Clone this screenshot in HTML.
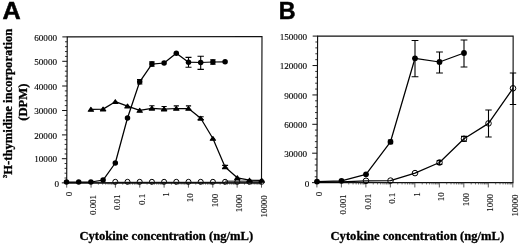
<!DOCTYPE html>
<html lang="en"><head><meta charset="utf-8"><title>Figure</title>
<style>html,body{margin:0;padding:0;background:#fff;}svg{display:block;filter:grayscale(1) blur(0.3px)}.t{font-family:"Liberation Serif","Times New Roman",serif;font-size:9.15px;fill:#000;stroke:#000;stroke-width:0.12px}.b{font-family:"Liberation Serif","Times New Roman",serif;font-weight:bold;font-size:12.62px;fill:#000;stroke:#000;stroke-width:0.3px}.L{font-family:"Liberation Sans",Arial,sans-serif;font-weight:bold;font-size:24px;fill:#000;stroke:#000;stroke-width:0.5px;paint-order:stroke}.ax{stroke:#111;stroke-width:1.15;fill:none}.tk{stroke:#111;stroke-width:1;fill:none}.xt{stroke:#333;stroke-width:0.8;fill:none}.mt{stroke:#111;stroke-width:0.85;fill:none}.xm{stroke:#333;stroke-width:0.7;fill:none}.ln{stroke:#000;stroke-width:1.25;fill:none;stroke-linejoin:round}.eb{stroke:#000;stroke-width:1.1;fill:none}.oc{stroke:#000;stroke-width:1;fill:none}.fc{fill:#000;stroke:none}</style></head><body>
<svg width="520" height="244" viewBox="0 0 520 244">
<rect width="520" height="244" fill="#fff"/>
<text class="L" transform="translate(2.55 18.95) scale(1.05 1)">A</text>
<text class="L" transform="translate(278.85 19.15) scale(0.97 1)">B</text>
<polygon class="ax" points="67.25,36.9 262,36.5 261.5,182.85 66.7,182.85"/>
<line class="tk" x1="62.35" y1="36.9" x2="67.25" y2="36.9"/>
<text class="t" x="57" y="40.65" text-anchor="end">60000</text>
<line class="mt" x1="65.03" y1="41.78" x2="67.23" y2="41.78"/>
<line class="mt" x1="65.01" y1="46.66" x2="67.21" y2="46.66"/>
<line class="mt" x1="64.99" y1="51.54" x2="67.19" y2="51.54"/>
<line class="mt" x1="64.98" y1="56.42" x2="67.18" y2="56.42"/>
<line class="tk" x1="62.26" y1="61.3" x2="67.16" y2="61.3"/>
<text class="t" x="57" y="65.05" text-anchor="end">50000</text>
<line class="mt" x1="64.94" y1="66.24" x2="67.14" y2="66.24"/>
<line class="mt" x1="64.92" y1="71.18" x2="67.12" y2="71.18"/>
<line class="mt" x1="64.9" y1="76.12" x2="67.1" y2="76.12"/>
<line class="mt" x1="64.88" y1="81.06" x2="67.08" y2="81.06"/>
<line class="tk" x1="62.16" y1="86" x2="67.06" y2="86"/>
<text class="t" x="57" y="89.75" text-anchor="end">40000</text>
<line class="mt" x1="64.85" y1="90.9" x2="67.05" y2="90.9"/>
<line class="mt" x1="64.83" y1="95.8" x2="67.03" y2="95.8"/>
<line class="mt" x1="64.81" y1="100.7" x2="67.01" y2="100.7"/>
<line class="mt" x1="64.79" y1="105.6" x2="66.99" y2="105.6"/>
<line class="tk" x1="62.07" y1="110.5" x2="66.97" y2="110.5"/>
<text class="t" x="57" y="114.25" text-anchor="end">30000</text>
<line class="mt" x1="64.75" y1="115.38" x2="66.95" y2="115.38"/>
<line class="mt" x1="64.74" y1="120.26" x2="66.94" y2="120.26"/>
<line class="mt" x1="64.72" y1="125.14" x2="66.92" y2="125.14"/>
<line class="mt" x1="64.7" y1="130.02" x2="66.9" y2="130.02"/>
<line class="tk" x1="61.98" y1="134.9" x2="66.88" y2="134.9"/>
<text class="t" x="57" y="138.65" text-anchor="end">20000</text>
<line class="mt" x1="64.66" y1="139.66" x2="66.86" y2="139.66"/>
<line class="mt" x1="64.64" y1="144.42" x2="66.84" y2="144.42"/>
<line class="mt" x1="64.63" y1="149.18" x2="66.83" y2="149.18"/>
<line class="mt" x1="64.61" y1="153.94" x2="66.81" y2="153.94"/>
<line class="tk" x1="61.89" y1="158.7" x2="66.79" y2="158.7"/>
<text class="t" x="57" y="162.45" text-anchor="end">10000</text>
<line class="mt" x1="64.57" y1="163.53" x2="66.77" y2="163.53"/>
<line class="mt" x1="64.55" y1="168.36" x2="66.75" y2="168.36"/>
<line class="mt" x1="64.54" y1="173.19" x2="66.74" y2="173.19"/>
<line class="mt" x1="64.52" y1="178.02" x2="66.72" y2="178.02"/>
<line class="tk" x1="61.8" y1="182.85" x2="66.7" y2="182.85"/>
<text class="t" x="59.1" y="186.85" text-anchor="end">0</text>
<line class="xt" x1="66.7" y1="182.85" x2="66.7" y2="187.65"/>
<text class="t" style="font-size:8.85px" transform="translate(71.7 191.9) rotate(-90)" text-anchor="end">0</text>
<line class="xt" x1="91.05" y1="182.85" x2="91.05" y2="187.65"/>
<text class="t" style="font-size:8.85px" transform="translate(96.05 195.1) rotate(-90)" text-anchor="end">0.001</text>
<line class="xt" x1="115.4" y1="182.85" x2="115.4" y2="187.65"/>
<line class="xm" x1="98.38" y1="182.85" x2="98.38" y2="184.65"/>
<line class="xm" x1="102.67" y1="182.85" x2="102.67" y2="184.65"/>
<line class="xm" x1="105.71" y1="182.85" x2="105.71" y2="184.65"/>
<line class="xm" x1="108.07" y1="182.85" x2="108.07" y2="184.65"/>
<line class="xm" x1="110" y1="182.85" x2="110" y2="184.65"/>
<line class="xm" x1="111.63" y1="182.85" x2="111.63" y2="184.65"/>
<line class="xm" x1="113.04" y1="182.85" x2="113.04" y2="184.65"/>
<line class="xm" x1="114.29" y1="182.85" x2="114.29" y2="184.65"/>
<text class="t" style="font-size:8.85px" transform="translate(120.4 194.6) rotate(-90)" text-anchor="end">0.01</text>
<line class="xt" x1="139.75" y1="182.85" x2="139.75" y2="187.65"/>
<line class="xm" x1="122.73" y1="182.85" x2="122.73" y2="184.65"/>
<line class="xm" x1="127.02" y1="182.85" x2="127.02" y2="184.65"/>
<line class="xm" x1="130.06" y1="182.85" x2="130.06" y2="184.65"/>
<line class="xm" x1="132.42" y1="182.85" x2="132.42" y2="184.65"/>
<line class="xm" x1="134.35" y1="182.85" x2="134.35" y2="184.65"/>
<line class="xm" x1="135.98" y1="182.85" x2="135.98" y2="184.65"/>
<line class="xm" x1="137.39" y1="182.85" x2="137.39" y2="184.65"/>
<line class="xm" x1="138.64" y1="182.85" x2="138.64" y2="184.65"/>
<text class="t" style="font-size:8.85px" transform="translate(144.75 193.9) rotate(-90)" text-anchor="end">0.1</text>
<line class="xt" x1="164.1" y1="182.85" x2="164.1" y2="187.65"/>
<line class="xm" x1="147.08" y1="182.85" x2="147.08" y2="184.65"/>
<line class="xm" x1="151.37" y1="182.85" x2="151.37" y2="184.65"/>
<line class="xm" x1="154.41" y1="182.85" x2="154.41" y2="184.65"/>
<line class="xm" x1="156.77" y1="182.85" x2="156.77" y2="184.65"/>
<line class="xm" x1="158.7" y1="182.85" x2="158.7" y2="184.65"/>
<line class="xm" x1="160.33" y1="182.85" x2="160.33" y2="184.65"/>
<line class="xm" x1="161.74" y1="182.85" x2="161.74" y2="184.65"/>
<line class="xm" x1="162.99" y1="182.85" x2="162.99" y2="184.65"/>
<text class="t" style="font-size:8.85px" transform="translate(169.1 192.4) rotate(-90)" text-anchor="end">1</text>
<line class="xt" x1="188.45" y1="182.85" x2="188.45" y2="187.65"/>
<line class="xm" x1="171.43" y1="182.85" x2="171.43" y2="184.65"/>
<line class="xm" x1="175.72" y1="182.85" x2="175.72" y2="184.65"/>
<line class="xm" x1="178.76" y1="182.85" x2="178.76" y2="184.65"/>
<line class="xm" x1="181.12" y1="182.85" x2="181.12" y2="184.65"/>
<line class="xm" x1="183.05" y1="182.85" x2="183.05" y2="184.65"/>
<line class="xm" x1="184.68" y1="182.85" x2="184.68" y2="184.65"/>
<line class="xm" x1="186.09" y1="182.85" x2="186.09" y2="184.65"/>
<line class="xm" x1="187.34" y1="182.85" x2="187.34" y2="184.65"/>
<text class="t" style="font-size:8.85px" transform="translate(193.45 193.3) rotate(-90)" text-anchor="end">10</text>
<line class="xt" x1="212.8" y1="182.85" x2="212.8" y2="187.65"/>
<line class="xm" x1="195.78" y1="182.85" x2="195.78" y2="184.65"/>
<line class="xm" x1="200.07" y1="182.85" x2="200.07" y2="184.65"/>
<line class="xm" x1="203.11" y1="182.85" x2="203.11" y2="184.65"/>
<line class="xm" x1="205.47" y1="182.85" x2="205.47" y2="184.65"/>
<line class="xm" x1="207.4" y1="182.85" x2="207.4" y2="184.65"/>
<line class="xm" x1="209.03" y1="182.85" x2="209.03" y2="184.65"/>
<line class="xm" x1="210.44" y1="182.85" x2="210.44" y2="184.65"/>
<line class="xm" x1="211.69" y1="182.85" x2="211.69" y2="184.65"/>
<text class="t" style="font-size:8.85px" transform="translate(217.8 193.9) rotate(-90)" text-anchor="end">100</text>
<line class="xt" x1="237.15" y1="182.85" x2="237.15" y2="187.65"/>
<line class="xm" x1="220.13" y1="182.85" x2="220.13" y2="184.65"/>
<line class="xm" x1="224.42" y1="182.85" x2="224.42" y2="184.65"/>
<line class="xm" x1="227.46" y1="182.85" x2="227.46" y2="184.65"/>
<line class="xm" x1="229.82" y1="182.85" x2="229.82" y2="184.65"/>
<line class="xm" x1="231.75" y1="182.85" x2="231.75" y2="184.65"/>
<line class="xm" x1="233.38" y1="182.85" x2="233.38" y2="184.65"/>
<line class="xm" x1="234.79" y1="182.85" x2="234.79" y2="184.65"/>
<line class="xm" x1="236.04" y1="182.85" x2="236.04" y2="184.65"/>
<text class="t" style="font-size:8.85px" transform="translate(242.15 194.5) rotate(-90)" text-anchor="end">1000</text>
<line class="xt" x1="261.5" y1="182.85" x2="261.5" y2="187.65"/>
<line class="xm" x1="244.48" y1="182.85" x2="244.48" y2="184.65"/>
<line class="xm" x1="248.77" y1="182.85" x2="248.77" y2="184.65"/>
<line class="xm" x1="251.81" y1="182.85" x2="251.81" y2="184.65"/>
<line class="xm" x1="254.17" y1="182.85" x2="254.17" y2="184.65"/>
<line class="xm" x1="256.1" y1="182.85" x2="256.1" y2="184.65"/>
<line class="xm" x1="257.73" y1="182.85" x2="257.73" y2="184.65"/>
<line class="xm" x1="259.14" y1="182.85" x2="259.14" y2="184.65"/>
<line class="xm" x1="260.39" y1="182.85" x2="260.39" y2="184.65"/>
<text class="t" style="font-size:8.85px" transform="translate(266.5 195.3) rotate(-90)" text-anchor="end">10000</text>
<line x1="115.3" y1="182.3" x2="225.1" y2="182.3" stroke="#000" stroke-width="1"/>
<line x1="225.1" y1="181.6" x2="261.7" y2="181.6" stroke="#555" stroke-width="2.2"/>
<circle class="oc" cx="115.3" cy="181.8" r="2.5"/>
<circle class="oc" cx="127.5" cy="181.8" r="2.5"/>
<circle class="oc" cx="139.7" cy="181.8" r="2.5"/>
<circle class="oc" cx="151.9" cy="181.8" r="2.5"/>
<circle class="oc" cx="164.1" cy="181.8" r="2.5"/>
<circle class="oc" cx="176.3" cy="181.8" r="2.5"/>
<circle class="oc" cx="188.5" cy="181.8" r="2.5"/>
<circle class="oc" cx="200.7" cy="181.8" r="2.5"/>
<circle class="oc" cx="212.9" cy="181.8" r="2.5"/>
<circle class="oc" cx="225.1" cy="181.8" r="2.5"/>
<circle class="oc" cx="237.3" cy="181.8" r="2.5"/>
<circle class="oc" cx="249.5" cy="181.8" r="2.5"/>
<circle class="oc" cx="261.7" cy="181.8" r="2.5"/>
<line class="ax" x1="67" y1="182.85" x2="261.7" y2="182.85"/>
<polyline class="ln" points="90.9,109.4 103.1,109.1 115.3,101.7 127.5,106.1 139.7,110.4 151.9,108.3 164.1,109.1 176.3,108.5 188.5,108.5 200.7,118.3 212.9,138.5 225.1,167 237.3,177.8 249.5,180.2 261.7,180.4"/>
<path class="eb" d="M151.9 105.7V109.3M149.3 105.7H154.5M149.3 109.3H154.5"/>
<path class="eb" d="M164.1 106.5V110.1M161.5 106.5H166.7M161.5 110.1H166.7"/>
<path class="eb" d="M176.3 105.9V109.5M173.7 105.9H178.9M173.7 109.5H178.9"/>
<path class="eb" d="M188.5 105.9V109.5M185.9 105.9H191.1M185.9 109.5H191.1"/>
<path class="eb" d="M200.7 116.7V119.5M197.7 116.7H203.7M197.7 119.5H203.7"/>
<path class="eb" d="M225.1 165.4V168.2M222.1 165.4H228.1M222.1 168.2H228.1"/>
<path class="fc" style="stroke:#000;stroke-width:1.1;stroke-linejoin:round" d="M90.9 107.4L93.55 111.2L88.25 111.2Z"/>
<path class="fc" style="stroke:#000;stroke-width:1.1;stroke-linejoin:round" d="M103.1 107.1L105.75 110.9L100.45 110.9Z"/>
<path class="fc" style="stroke:#000;stroke-width:1.1;stroke-linejoin:round" d="M115.3 99.7L117.95 103.5L112.65 103.5Z"/>
<path class="fc" style="stroke:#000;stroke-width:1.1;stroke-linejoin:round" d="M127.5 104.1L130.15 107.9L124.85 107.9Z"/>
<path class="fc" style="stroke:#000;stroke-width:1.1;stroke-linejoin:round" d="M139.7 108.4L142.35 112.2L137.05 112.2Z"/>
<path class="fc" style="stroke:#000;stroke-width:1.1;stroke-linejoin:round" d="M151.9 106.3L154.55 110.1L149.25 110.1Z"/>
<path class="fc" style="stroke:#000;stroke-width:1.1;stroke-linejoin:round" d="M164.1 107.1L166.75 110.9L161.45 110.9Z"/>
<path class="fc" style="stroke:#000;stroke-width:1.1;stroke-linejoin:round" d="M176.3 106.5L178.95 110.3L173.65 110.3Z"/>
<path class="fc" style="stroke:#000;stroke-width:1.1;stroke-linejoin:round" d="M188.5 106.5L191.15 110.3L185.85 110.3Z"/>
<path class="fc" style="stroke:#000;stroke-width:1.1;stroke-linejoin:round" d="M200.7 116.3L203.35 120.1L198.05 120.1Z"/>
<path class="fc" style="stroke:#000;stroke-width:1.1;stroke-linejoin:round" d="M212.9 136.5L215.55 140.3L210.25 140.3Z"/>
<path class="fc" style="stroke:#000;stroke-width:1.1;stroke-linejoin:round" d="M225.1 165L227.75 168.8L222.45 168.8Z"/>
<path class="fc" style="stroke:#000;stroke-width:1.1;stroke-linejoin:round" d="M237.3 175.8L239.95 179.6L234.65 179.6Z"/>
<path class="fc" style="stroke:#000;stroke-width:1.1;stroke-linejoin:round" d="M249.5 178.2L252.15 182L246.85 182Z"/>
<path class="fc" style="stroke:#000;stroke-width:1.1;stroke-linejoin:round" d="M261.7 178.4L264.35 182.2L259.05 182.2Z"/>
<polyline class="ln" points="66.5,182.1 78.7,182 90.9,182 103.1,180.1 115.3,163 127.5,118 139.7,81.8 151.9,64.1 164.1,63 176.3,53.2 188.5,62.2 200.7,62.5 212.9,62 225.1,61.8"/>
<path class="eb" d="M188.5 57.4V67.2M185.5 57.4H191.5M185.5 67.2H191.5"/>
<path class="eb" d="M200.7 56.2V69.4M197.5 56.2H203.9M197.5 69.4H203.9"/>
<path class="eb" d="M212.9 59.8V64.2M210.2 59.8H215.6M210.2 64.2H215.6"/>
<path class="eb" d="M139.7 79.6V84M137 79.6H142.4M137 84H142.4"/>
<path class="eb" d="M151.9 61.9V66.3M149.2 61.9H154.6M149.2 66.3H154.6"/>
<circle class="fc" cx="66.5" cy="182.1" r="2.75"/>
<circle class="fc" cx="78.7" cy="182" r="2.75"/>
<circle class="fc" cx="90.9" cy="182" r="2.75"/>
<circle class="fc" cx="103.1" cy="180.1" r="2.75"/>
<circle class="fc" cx="115.3" cy="163" r="2.75"/>
<circle class="fc" cx="127.5" cy="118" r="2.75"/>
<circle class="fc" cx="139.7" cy="81.8" r="2.75"/>
<circle class="fc" cx="151.9" cy="64.1" r="2.75"/>
<circle class="fc" cx="164.1" cy="63" r="2.75"/>
<circle class="fc" cx="176.3" cy="53.2" r="2.75"/>
<circle class="fc" cx="188.5" cy="62.2" r="2.75"/>
<circle class="fc" cx="200.7" cy="62.5" r="2.75"/>
<circle class="fc" cx="212.9" cy="62" r="2.75"/>
<circle class="fc" cx="225.1" cy="61.8" r="2.75"/>
<text class="b" transform="translate(11.9 177.9) rotate(-90)"><tspan font-size="6.3" dy="-4.6">3</tspan><tspan dy="4.6">H-thymidine incorporation</tspan></text>
<text class="b" transform="translate(27 102.2) rotate(-90)" text-anchor="middle">(DPM)</text>
<text class="b" x="79.4" y="240.0">Cytokine concentration (ng/mL)</text>
<polygon class="ax" points="317.6,36.1 513.15,36.1 513,182.65 316.9,182.65"/>
<line class="tk" x1="312.7" y1="36.1" x2="317.6" y2="36.1"/>
<text class="t" x="307" y="39.85" text-anchor="end">150000</text>
<line class="mt" x1="315.37" y1="41.99" x2="317.57" y2="41.99"/>
<line class="mt" x1="315.34" y1="47.88" x2="317.54" y2="47.88"/>
<line class="mt" x1="315.32" y1="53.77" x2="317.52" y2="53.77"/>
<line class="mt" x1="315.29" y1="59.66" x2="317.49" y2="59.66"/>
<line class="tk" x1="312.56" y1="65.55" x2="317.46" y2="65.55"/>
<text class="t" x="307" y="69.3" text-anchor="end">120000</text>
<line class="mt" x1="315.23" y1="71.43" x2="317.43" y2="71.43"/>
<line class="mt" x1="315.2" y1="77.31" x2="317.4" y2="77.31"/>
<line class="mt" x1="315.18" y1="83.19" x2="317.38" y2="83.19"/>
<line class="mt" x1="315.15" y1="89.07" x2="317.35" y2="89.07"/>
<line class="tk" x1="312.42" y1="94.95" x2="317.32" y2="94.95"/>
<text class="t" x="307" y="98.7" text-anchor="end">90000</text>
<line class="mt" x1="315.09" y1="100.82" x2="317.29" y2="100.82"/>
<line class="mt" x1="315.06" y1="106.69" x2="317.26" y2="106.69"/>
<line class="mt" x1="315.03" y1="112.56" x2="317.23" y2="112.56"/>
<line class="mt" x1="315.01" y1="118.43" x2="317.21" y2="118.43"/>
<line class="tk" x1="312.28" y1="124.3" x2="317.18" y2="124.3"/>
<text class="t" x="307" y="128.05" text-anchor="end">60000</text>
<line class="mt" x1="314.95" y1="130.08" x2="317.15" y2="130.08"/>
<line class="mt" x1="314.92" y1="135.86" x2="317.12" y2="135.86"/>
<line class="mt" x1="314.9" y1="141.64" x2="317.1" y2="141.64"/>
<line class="mt" x1="314.87" y1="147.42" x2="317.07" y2="147.42"/>
<line class="tk" x1="312.14" y1="153.2" x2="317.04" y2="153.2"/>
<text class="t" x="307" y="156.95" text-anchor="end">30000</text>
<line class="mt" x1="314.81" y1="159.09" x2="317.01" y2="159.09"/>
<line class="mt" x1="314.78" y1="164.98" x2="316.98" y2="164.98"/>
<line class="mt" x1="314.76" y1="170.87" x2="316.96" y2="170.87"/>
<line class="mt" x1="314.73" y1="176.76" x2="316.93" y2="176.76"/>
<line class="tk" x1="312" y1="182.65" x2="316.9" y2="182.65"/>
<text class="t" x="309.4" y="186.65" text-anchor="end">0</text>
<line class="xt" x1="316.9" y1="182.65" x2="316.9" y2="187.45"/>
<text class="t" style="font-size:8.85px" transform="translate(321.7 191.9) rotate(-90)" text-anchor="end">0</text>
<line class="xt" x1="341.39" y1="182.65" x2="341.39" y2="187.45"/>
<text class="t" style="font-size:8.85px" transform="translate(346.19 194.5) rotate(-90)" text-anchor="end">0.001</text>
<line class="xt" x1="365.88" y1="182.65" x2="365.88" y2="187.45"/>
<line class="xm" x1="348.76" y1="182.65" x2="348.76" y2="184.45"/>
<line class="xm" x1="353.07" y1="182.65" x2="353.07" y2="184.45"/>
<line class="xm" x1="356.13" y1="182.65" x2="356.13" y2="184.45"/>
<line class="xm" x1="358.5" y1="182.65" x2="358.5" y2="184.45"/>
<line class="xm" x1="360.44" y1="182.65" x2="360.44" y2="184.45"/>
<line class="xm" x1="362.08" y1="182.65" x2="362.08" y2="184.45"/>
<line class="xm" x1="363.5" y1="182.65" x2="363.5" y2="184.45"/>
<line class="xm" x1="364.75" y1="182.65" x2="364.75" y2="184.45"/>
<text class="t" style="font-size:8.85px" transform="translate(370.67 193.9) rotate(-90)" text-anchor="end">0.01</text>
<line class="xt" x1="390.36" y1="182.65" x2="390.36" y2="187.45"/>
<line class="xm" x1="373.25" y1="182.65" x2="373.25" y2="184.45"/>
<line class="xm" x1="377.56" y1="182.65" x2="377.56" y2="184.45"/>
<line class="xm" x1="380.62" y1="182.65" x2="380.62" y2="184.45"/>
<line class="xm" x1="382.99" y1="182.65" x2="382.99" y2="184.45"/>
<line class="xm" x1="384.93" y1="182.65" x2="384.93" y2="184.45"/>
<line class="xm" x1="386.57" y1="182.65" x2="386.57" y2="184.45"/>
<line class="xm" x1="387.99" y1="182.65" x2="387.99" y2="184.45"/>
<line class="xm" x1="389.24" y1="182.65" x2="389.24" y2="184.45"/>
<text class="t" style="font-size:8.85px" transform="translate(395.16 192.8) rotate(-90)" text-anchor="end">0.1</text>
<line class="xt" x1="414.85" y1="182.65" x2="414.85" y2="187.45"/>
<line class="xm" x1="397.73" y1="182.65" x2="397.73" y2="184.45"/>
<line class="xm" x1="402.05" y1="182.65" x2="402.05" y2="184.45"/>
<line class="xm" x1="405.11" y1="182.65" x2="405.11" y2="184.45"/>
<line class="xm" x1="407.48" y1="182.65" x2="407.48" y2="184.45"/>
<line class="xm" x1="409.42" y1="182.65" x2="409.42" y2="184.45"/>
<line class="xm" x1="411.06" y1="182.65" x2="411.06" y2="184.45"/>
<line class="xm" x1="412.48" y1="182.65" x2="412.48" y2="184.45"/>
<line class="xm" x1="413.73" y1="182.65" x2="413.73" y2="184.45"/>
<text class="t" style="font-size:8.85px" transform="translate(419.65 192.3) rotate(-90)" text-anchor="end">1</text>
<line class="xt" x1="439.34" y1="182.65" x2="439.34" y2="187.45"/>
<line class="xm" x1="422.22" y1="182.65" x2="422.22" y2="184.45"/>
<line class="xm" x1="426.53" y1="182.65" x2="426.53" y2="184.45"/>
<line class="xm" x1="429.59" y1="182.65" x2="429.59" y2="184.45"/>
<line class="xm" x1="431.97" y1="182.65" x2="431.97" y2="184.45"/>
<line class="xm" x1="433.9" y1="182.65" x2="433.9" y2="184.45"/>
<line class="xm" x1="435.54" y1="182.65" x2="435.54" y2="184.45"/>
<line class="xm" x1="436.96" y1="182.65" x2="436.96" y2="184.45"/>
<line class="xm" x1="438.22" y1="182.65" x2="438.22" y2="184.45"/>
<text class="t" style="font-size:8.85px" transform="translate(444.14 192.3) rotate(-90)" text-anchor="end">10</text>
<line class="xt" x1="463.82" y1="182.65" x2="463.82" y2="187.45"/>
<line class="xm" x1="446.71" y1="182.65" x2="446.71" y2="184.45"/>
<line class="xm" x1="451.02" y1="182.65" x2="451.02" y2="184.45"/>
<line class="xm" x1="454.08" y1="182.65" x2="454.08" y2="184.45"/>
<line class="xm" x1="456.45" y1="182.65" x2="456.45" y2="184.45"/>
<line class="xm" x1="458.39" y1="182.65" x2="458.39" y2="184.45"/>
<line class="xm" x1="460.03" y1="182.65" x2="460.03" y2="184.45"/>
<line class="xm" x1="461.45" y1="182.65" x2="461.45" y2="184.45"/>
<line class="xm" x1="462.7" y1="182.65" x2="462.7" y2="184.45"/>
<text class="t" style="font-size:8.85px" transform="translate(468.62 193) rotate(-90)" text-anchor="end">100</text>
<line class="xt" x1="488.31" y1="182.65" x2="488.31" y2="187.45"/>
<line class="xm" x1="471.2" y1="182.65" x2="471.2" y2="184.45"/>
<line class="xm" x1="475.51" y1="182.65" x2="475.51" y2="184.45"/>
<line class="xm" x1="478.57" y1="182.65" x2="478.57" y2="184.45"/>
<line class="xm" x1="480.94" y1="182.65" x2="480.94" y2="184.45"/>
<line class="xm" x1="482.88" y1="182.65" x2="482.88" y2="184.45"/>
<line class="xm" x1="484.52" y1="182.65" x2="484.52" y2="184.45"/>
<line class="xm" x1="485.94" y1="182.65" x2="485.94" y2="184.45"/>
<line class="xm" x1="487.19" y1="182.65" x2="487.19" y2="184.45"/>
<text class="t" style="font-size:8.85px" transform="translate(493.11 194) rotate(-90)" text-anchor="end">1000</text>
<line class="xt" x1="512.8" y1="182.65" x2="512.8" y2="187.45"/>
<line class="xm" x1="495.68" y1="182.65" x2="495.68" y2="184.45"/>
<line class="xm" x1="500" y1="182.65" x2="500" y2="184.45"/>
<line class="xm" x1="503.06" y1="182.65" x2="503.06" y2="184.45"/>
<line class="xm" x1="505.43" y1="182.65" x2="505.43" y2="184.45"/>
<line class="xm" x1="507.37" y1="182.65" x2="507.37" y2="184.45"/>
<line class="xm" x1="509.01" y1="182.65" x2="509.01" y2="184.45"/>
<line class="xm" x1="510.43" y1="182.65" x2="510.43" y2="184.45"/>
<line class="xm" x1="511.68" y1="182.65" x2="511.68" y2="184.45"/>
<text class="t" style="font-size:8.85px" transform="translate(517.6 194.5) rotate(-90)" text-anchor="end">10000</text>
<polyline class="ln" points="317,182.3 341.5,181.8 366,180.8 390.5,180.6 415,173.1 439.5,162.5 464,138.8 488.5,123.4 513,88.3"/>
<path class="eb" d="M439.5 160.6V164.4M436.7 160.6H442.3M436.7 164.4H442.3"/>
<path class="eb" d="M464 136.4V141.2M461 136.4H467M461 141.2H467"/>
<path class="eb" d="M488.5 110V137M485.3 110H491.7M485.3 137H491.7"/>
<path class="eb" d="M513 73V104.5M509.8 73H516.2M509.8 104.5H516.2"/>
<circle class="oc" cx="366" cy="180.8" r="2.8"/>
<circle class="oc" cx="390.5" cy="180.6" r="2.8"/>
<circle class="oc" cx="415" cy="173.1" r="2.8"/>
<circle class="oc" cx="439.5" cy="162.5" r="2.8"/>
<circle class="oc" cx="464" cy="138.8" r="2.8"/>
<circle class="oc" cx="488.5" cy="123.4" r="2.8"/>
<circle class="oc" cx="513" cy="88.3" r="2.8"/>
<polyline class="ln" points="317,181.6 341.5,180.8 366,174.3 390.5,141.8 415,58.3 439.5,62 464,53"/>
<path class="eb" d="M390.5 140V143.6M387.9 140H393.1M387.9 143.6H393.1"/>
<path class="eb" d="M415 40.5V76.8M411.6 40.5H418.4M411.6 76.8H418.4"/>
<path class="eb" d="M439.5 52V73M436.1 52H442.9M436.1 73H442.9"/>
<path class="eb" d="M464 40V67M460.6 40H467.4M460.6 67H467.4"/>
<circle class="fc" cx="317" cy="181.6" r="2.9"/>
<circle class="fc" cx="341.5" cy="180.8" r="2.9"/>
<circle class="fc" cx="366" cy="174.3" r="2.9"/>
<circle class="fc" cx="390.5" cy="141.8" r="2.9"/>
<circle class="fc" cx="415" cy="58.3" r="2.9"/>
<circle class="fc" cx="439.5" cy="62" r="2.9"/>
<circle class="fc" cx="464" cy="53" r="2.9"/>
<text class="b" x="330.5" y="239.7">Cytokine concentration (ng/mL)</text>
</svg></body></html>
